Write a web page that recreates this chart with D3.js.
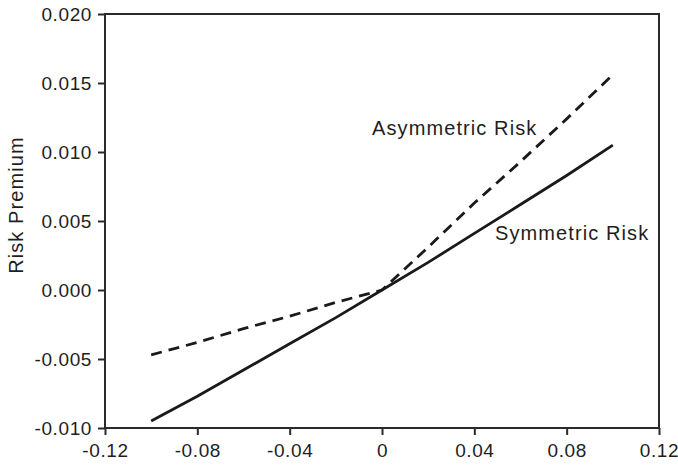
<!DOCTYPE html>
<html>
<head>
<meta charset="utf-8">
<script src="https://cdn.jsdelivr.net/npm/d3@7"></script>
<style>
  html, body { margin: 0; padding: 0; background: #fff; }
  svg { display: block; }
  text { font-family: "Liberation Sans", Arial, Helvetica, sans-serif; fill: #1e1e1e; }
</style>
</head>
<body>
<script>
// Mean-return deviation on the x axis, risk premium on the y axis
const xValues = [-0.10, -0.08, -0.06, -0.04, -0.02, 0.00, 0.02, 0.04, 0.06, 0.08, 0.10];
const symmetricRisk = [-0.0095, -0.0077, -0.0058, -0.0039, -0.0020, 0.0000, 0.0020, 0.0041, 0.0062, 0.0083, 0.0105];
const asymmetricRisk = [-0.0047, -0.0038, -0.0028, -0.0019, -0.0009, 0.0000, 0.0031, 0.0063, 0.0093, 0.0124, 0.0156];

const xTicks = [-0.12, -0.08, -0.04, 0, 0.04, 0.08, 0.12];
const xTickLabels = ["-0.12", "-0.08", "-0.04", "0", "0.04", "0.08", "0.12"];
const yTicks = [-0.010, -0.005, 0.000, 0.005, 0.010, 0.015, 0.020];
const yTickLabels = ["-0.010", "-0.005", "0.000", "0.005", "0.010", "0.015", "0.020"];

const seriesLabels = ["Asymmetric Risk", "Symmetric Risk"];
const yAxisTitle = "Risk Premium";

const W = 678, H = 465;
const plotLeft = 105, plotRight = 659, plotTop = 14, plotBottom = 428;

const svg = d3.select("body").append("svg").attr("width", W).attr("height", H);

const x = d3.scaleLinear().domain([-0.12, 0.12]).range([plotLeft, plotRight]);
const y = d3.scaleLinear().domain([-0.010, 0.020]).range([plotBottom, plotTop]);

// plot frame
svg.append("rect")
  .attr("x", plotLeft).attr("y", plotTop)
  .attr("width", plotRight - plotLeft).attr("height", plotBottom - plotTop)
  .attr("fill", "none").attr("stroke", "#2a2a2a").attr("stroke-width", 2);

// axes
const xAxis = d3.axisBottom(x).tickValues(xTicks)
  .tickFormat((d, i) => xTickLabels[i]).tickSize(7).tickSizeOuter(0).tickPadding(9);
const gx = svg.append("g").attr("transform", `translate(0,${plotBottom})`).call(xAxis);

const yAxis = d3.axisLeft(y).tickValues(yTicks)
  .tickFormat((d, i) => yTickLabels[i]).tickSize(7).tickSizeOuter(0).tickPadding(6);
const gy = svg.append("g").attr("transform", `translate(${plotLeft},0)`).call(yAxis);

[gx, gy].forEach(g => {
  g.select(".domain").remove();
  g.selectAll(".tick line").attr("stroke", "#2a2a2a").attr("stroke-width", 2);
  g.selectAll(".tick text")
    .attr("fill", "#1e1e1e")
    .style("font-size", "19px")
    .style("letter-spacing", "0.6px")
    .style("font-family", "'Liberation Sans', Arial, sans-serif");
});
gx.selectAll(".tick text").attr("dy", "0.71em");

// series lines
const line = vals => d3.line()
  .x((d, i) => x(xValues[i]))
  .y(d => y(d))(vals);

svg.append("path")
  .attr("d", line(symmetricRisk))
  .attr("fill", "none").attr("stroke", "#1a1a1a").attr("stroke-width", 2.8);

svg.append("path")
  .attr("d", line(asymmetricRisk))
  .attr("fill", "none").attr("stroke", "#1a1a1a").attr("stroke-width", 2.8)
  .attr("stroke-dasharray", "11,7");

// series labels
svg.append("text")
  .attr("x", 372).attr("y", 135)
  .style("font-size", "20px").style("letter-spacing", "1.1px")
  .text(seriesLabels[0]);

svg.append("text")
  .attr("x", 495).attr("y", 240)
  .style("font-size", "20px").style("letter-spacing", "1.1px")
  .text(seriesLabels[1]);

// y axis title
svg.append("text")
  .attr("transform", "translate(23,205) rotate(-90)")
  .attr("text-anchor", "middle")
  .style("font-size", "20px").style("letter-spacing", "1.1px")
  .text(yAxisTitle);
</script>
</body>
</html>
